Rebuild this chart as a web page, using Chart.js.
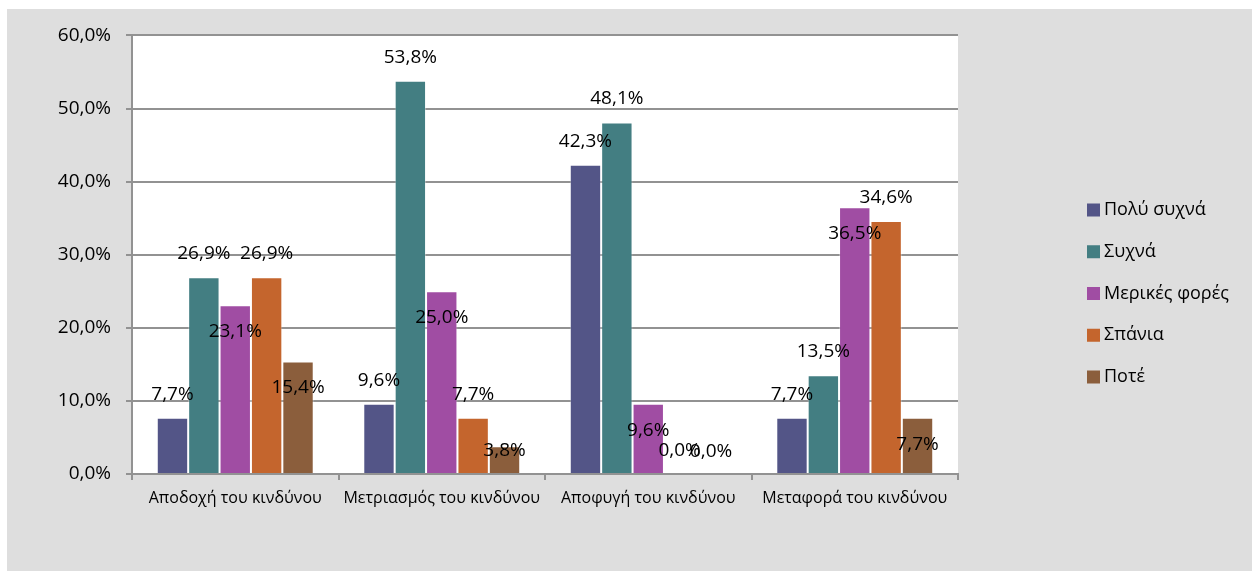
<!DOCTYPE html>
<html>
<head>
<meta charset="utf-8">
<script src="https://cdn.jsdelivr.net/npm/chart.js@4.4.1/dist/chart.umd.min.js"></script>
<style>
  html, body { margin: 0; padding: 0; background: #fff; }
  #wrap { position: absolute; left: 7px; top: 9px; width: 1245px; height: 562px; background: #dedede; }
</style>
</head>
<body>
<div id="wrap"><canvas id="riskChart" width="1245" height="562"></canvas></div>
<script>
// categories and series (percent)
const categories = ["Αποδοχή του κινδύνου", "Μετριασμός του κινδύνου", "Αποφυγή του κινδύνου", "Μεταφορά του κινδύνου"];
const seriesNames = ["Πολύ συχνά", "Συχνά", "Μερικές φορές", "Σπάνια", "Ποτέ"];
const polySyxna = [7.7, 9.6, 42.3, 7.7];
const syxna = [26.9, 53.8, 48.1, 13.5];
const merikesFores = [23.1, 25.0, 9.6, 36.5];
const spania = [26.9, 7.7, 0.0, 34.6];
const pote = [15.4, 3.8, 0.0, 7.7];
const yMax = 60;
const yStep = 10;

const colors = ["#535587", "#437E82", "#A04DA3", "#C4652D", "#8B5E3C"];
// excel-ish label placement: some series sit inside the bar end
const labelInside = [false, false, true, false, true];
const FONT = '"Open Sans", "Noto Sans", sans-serif';
const gridColor = "#929292";

const fmt = (v) => v.toFixed(1).replace(".", ",") + "%";

const plotBg = {
  id: "plotBg",
  beforeDraw(chart) {
    const { ctx, chartArea: a } = chart;
    ctx.save();
    ctx.fillStyle = "#fff";
    ctx.fillRect(a.left, a.top, a.right - a.left, a.bottom - a.top);
    ctx.restore();
  },
};

const valueLabels = {
  id: "valueLabels",
  afterDatasetsDraw(chart) {
    const { ctx } = chart;
    ctx.save();
    ctx.font = "19px " + FONT;
    ctx.fillStyle = "#000";
    ctx.textAlign = "center";
    ctx.textBaseline = "middle";
    chart.data.datasets.forEach((ds, i) => {
      chart.getDatasetMeta(i).data.forEach((bar, j) => {
        let y;
        if (labelInside[i]) y = Math.min(bar.y + 26.5, bar.base - 22);
        else y = bar.y - 23.5;
        ctx.fillText(fmt(ds.data[j]), bar.x, y);
      });
    });
    ctx.restore();
  },
};

const sideLegend = {
  id: "sideLegend",
  afterDraw(chart) {
    const { ctx, chartArea } = chart;
    const x = chartArea.right + 129;
    ctx.save();
    ctx.font = "18px " + FONT;
    ctx.textBaseline = "middle";
    chart.data.datasets.forEach((ds, i) => {
      const y = 201 + i * 41.75;
      ctx.fillStyle = ds.backgroundColor;
      ctx.fillRect(x, y - 6.5, 13, 13);
      ctx.fillStyle = "#000";
      ctx.fillText(ds.label, x + 17, y);
    });
    ctx.restore();
  },
};

const seriesData = [polySyxna, syxna, merikesFores, spania, pote];

new Chart(document.getElementById("riskChart"), {
  type: "bar",
  data: {
    labels: categories,
    datasets: seriesNames.map((name, i) => ({
      label: name,
      data: seriesData[i],
      backgroundColor: colors[i],
      borderColor: "rgba(255,255,255,0.35)",
      borderWidth: 1,
      categoryPercentage: 0.76,
      barPercentage: 1.0,
    })),
  },
  options: {
    responsive: false,
    devicePixelRatio: 1,
    animation: false,
    layout: { padding: { left: 0, top: 24, right: 294, bottom: 0 } },
    plugins: { legend: { display: false }, tooltip: { enabled: false } },
    scales: {
      x: {
        offset: true,
        grid: { offset: true, drawOnChartArea: false, drawTicks: true, tickLength: 6, color: gridColor, lineWidth: 2 },
        border: { display: true, color: gridColor, width: 2 },
        ticks: { color: "#000", font: { family: FONT, size: 16 }, padding: 9, maxRotation: 0 },
        afterFit: (s) => { s.height = 97; },
      },
      y: {
        min: 0,
        max: yMax,
        ticks: { stepSize: yStep, color: "#000", font: { family: FONT, size: 19 }, padding: 15, callback: (v) => fmt(v) },
        grid: { color: gridColor, lineWidth: 2, tickLength: 6 },
        border: { display: true, color: gridColor, width: 2 },
        afterFit: (s) => { s.width = 125; },
      },
    },
  },
  plugins: [plotBg, valueLabels, sideLegend],
});
</script>
</body>
</html>
